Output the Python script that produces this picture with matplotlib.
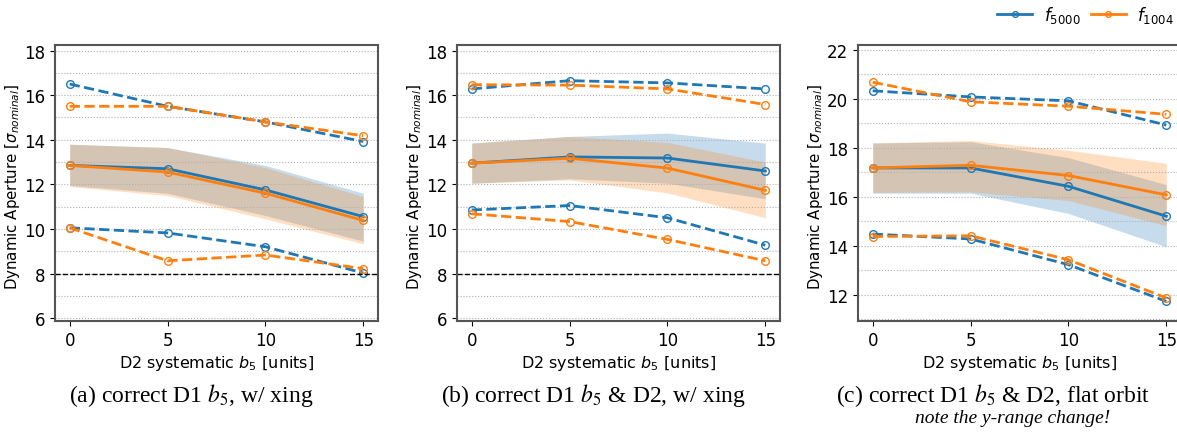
import numpy as np
import matplotlib
matplotlib.use("Agg")
import matplotlib.pyplot as plt
from matplotlib.ticker import MultipleLocator

# --- data ---
b5 = [0, 5, 10, 15]

# panel (a): correct D1 b5, w/ xing
a_f5000_mean = [12.85, 12.7, 11.75, 10.55]
a_f5000_lo = [11.95, 11.6, 10.6, 9.45]
a_f5000_hi = [13.8, 13.65, 12.85, 11.6]
a_f5000_max = [16.5, 15.5, 14.8, 13.92]
a_f5000_min = [10.05, 9.82, 9.2, 8.02]
a_f1004_mean = [12.85, 12.55, 11.6, 10.38]
a_f1004_lo = [11.9, 11.5, 10.45, 9.33]
a_f1004_hi = [13.8, 13.65, 12.75, 11.45]
a_f1004_max = [15.5, 15.5, 14.8, 14.18]
a_f1004_min = [10.05, 8.57, 8.83, 8.22]

# panel (b): correct D1 b5 & D2, w/ xing
b_f5000_mean = [12.95, 13.23, 13.18, 12.6]
b_f5000_lo = [12.05, 12.25, 12.05, 11.35]
b_f5000_hi = [13.85, 14.15, 14.3, 13.85]
b_f5000_max = [16.28, 16.65, 16.55, 16.28]
b_f5000_min = [10.85, 11.05, 10.5, 9.27]
b_f1004_mean = [12.95, 13.17, 12.73, 11.73]
b_f1004_lo = [12.05, 12.2, 11.62, 10.5]
b_f1004_hi = [13.85, 14.15, 13.88, 13.0]
b_f1004_max = [16.47, 16.45, 16.28, 15.58]
b_f1004_min = [10.68, 10.33, 9.53, 8.57]

# panel (c): correct D1 b5 & D2, flat orbit
c_f5000_mean = [17.18, 17.18, 16.43, 15.21]
c_f5000_lo = [16.15, 16.15, 15.32, 13.96]
c_f5000_hi = [18.2, 18.25, 17.6, 16.5]
c_f5000_max = [20.33, 20.08, 19.92, 18.93]
c_f5000_min = [14.48, 14.28, 13.23, 11.73]
c_f1004_mean = [17.18, 17.29, 16.87, 16.08]
c_f1004_lo = [16.18, 16.2, 15.85, 14.82]
c_f1004_hi = [18.2, 18.3, 17.9, 17.37]
c_f1004_max = [20.68, 19.88, 19.7, 19.37]
c_f1004_min = [14.38, 14.41, 13.43, 11.87]

captions = ["(a) correct D1 $b_5$, w/ xing",
            "(b) correct D1 $b_5$ & D2, w/ xing",
            "(c) correct D1 $b_5$ & D2, flat orbit"]
note = "note the y-range change!"

BLUE = "#1f77b4"
ORANGE = "#ff7f0e"

W, H = 1177, 435
fig = plt.figure(figsize=(W / 100, H / 100), dpi=100)


def px_axes(left, top, right, bottom):
    return fig.add_axes([left / W, 1 - bottom / H, (right - left) / W, (bottom - top) / H])


def draw_series(ax, mean, lo, hi, vmax, vmin, color, label):
    ax.fill_between(b5, lo, hi, color=color, alpha=0.25, lw=0)
    mk = dict(marker="o", mfc="none", mec=color, ms=5.5, mew=1.0)
    ax.plot(b5, mean, "-", color=color, lw=2, label=label, **mk)
    ax.plot(b5, vmax, "--", color=color, lw=2, **mk)
    ax.plot(b5, vmin, "--", color=color, lw=2, **mk)


panels = [
    ((a_f5000_mean, a_f5000_lo, a_f5000_hi, a_f5000_max, a_f5000_min),
     (a_f1004_mean, a_f1004_lo, a_f1004_hi, a_f1004_max, a_f1004_min)),
    ((b_f5000_mean, b_f5000_lo, b_f5000_hi, b_f5000_max, b_f5000_min),
     (b_f1004_mean, b_f1004_lo, b_f1004_hi, b_f1004_max, b_f1004_min)),
    ((c_f5000_mean, c_f5000_lo, c_f5000_hi, c_f5000_max, c_f5000_min),
     (c_f1004_mean, c_f1004_lo, c_f1004_hi, c_f1004_max, c_f1004_min)),
]
lefts = [55, 457, 858]
ylims = [(5.87, 18.25), (5.87, 18.25), (10.93, 22.2)]
cap_x = [191, 593, 993]

axes = []
for i, (s5000, s1004) in enumerate(panels):
    ax = px_axes(lefts[i], 46, lefts[i] + 323, 322)
    axes.append(ax)
    draw_series(ax, *s5000, BLUE, r"$f_{5000}$")
    draw_series(ax, *s1004, ORANGE, r"$f_{1004}$")
    if i < 2:
        ax.axhline(8, color="black", lw=1, ls="--")
    ax.set_ylim(*ylims[i])
    ax.set_xlim(-0.75, 15.75)
    ax.set_xticks(b5)
    ax.yaxis.set_major_locator(MultipleLocator(2))
    ax.yaxis.set_minor_locator(MultipleLocator(1))
    ax.grid(True, axis="y", which="both", ls=":", color="#b0b0b0", lw=0.8)
    ax.tick_params(labelsize=12)
    ax.tick_params(axis="y", which="minor", length=0)
    for sp in ax.spines.values():
        sp.set_color("#555555")
        sp.set_linewidth(1.5)
    ax.set_xlabel(r"D2 systematic $b_5$ [units]", fontsize=11.5, labelpad=3)
    ax.set_ylabel(r"Dynamic Aperture [$\sigma_{nominal}$]", fontsize=10.8)
    ax.yaxis.set_label_coords(-0.102, 0.49)
    fig.text(cap_x[i] / W, 1 - 396 / H, captions[i], ha="center", va="center",
             fontsize=17, family="Liberation Serif", math_fontfamily="stix")

fig.text(1013 / W, 1 - 419 / H, note, ha="center", va="center",
         fontsize=14, family="Liberation Serif", style="italic")

handles, labels = axes[0].get_legend_handles_labels()
fig.legend(handles, labels, loc="upper right",
           bbox_to_anchor=((W + 12) / W, 1 + 10 / H),
           ncol=2, frameon=False, fontsize=12, handlelength=2.1,
           columnspacing=0.6, handletextpad=0.7, markerscale=0.75)

fig.savefig("out.png", dpi=100)
